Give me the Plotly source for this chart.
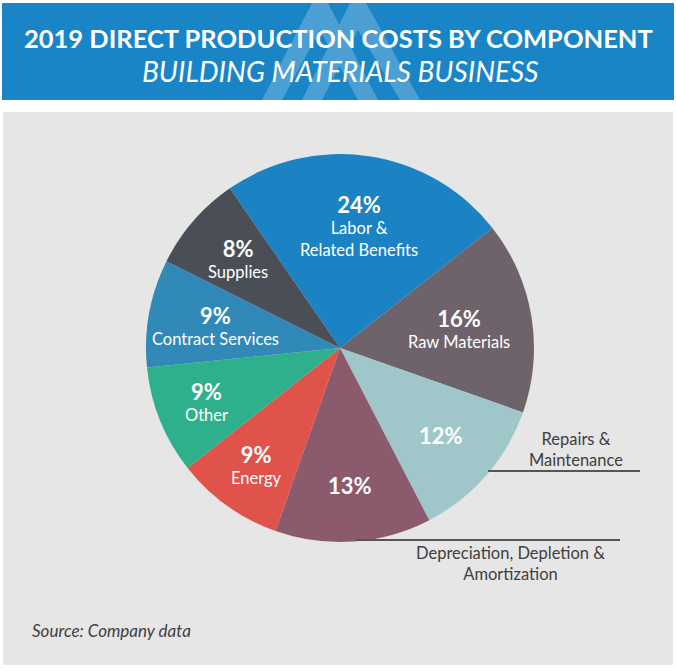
import math
import plotly.graph_objects as go

categories = ["Labor &<br>Related Benefits", "Raw Materials", "Repairs &<br>Maintenance",
              "Depreciation, Depletion &<br>Amortization", "Energy", "Other",
              "Contract Services", "Supplies"]
values = [24, 16, 12, 13, 9, 9, 9, 8]
inside_names = [True, True, False, False, True, True, True, True]
colors = ["#1b82c4", "#6f636b", "#9fc6c9", "#8b5a6c", "#e0534b", "#2fb08c", "#3189b8", "#4a4f57"]

FONT = "Lato"
W, H = 676, 672
CX, CY, R = 340, 348, 194          # pie centre / radius in pixels (layout)
ROTATION = -34.6
label_radius = [0.64, 0.62, 0.69, 0.71, 0.74, 0.74, 0.65, 0.70]   # label placement (style)


def px(x):
    return x / W


def py(y):
    return 1 - y / H


fig = go.Figure()
fig.add_trace(go.Pie(
    labels=[c.replace("<br>", " ") for c in categories],
    values=values,
    textinfo="none",
    marker=dict(colors=colors, line=dict(width=0)),
    sort=False,
    direction="clockwise",
    rotation=ROTATION,
    showlegend=False,
    hoverinfo="label+percent",
    domain=dict(x=[px(CX - R), px(CX + R)], y=[py(CY + R), py(CY - R)]),
))

# slice labels placed at each slice's mid angle (derived from the values)
annotations = []
total = sum(values)
cum = 0
for cat, v, show, rf in zip(categories, values, inside_names, label_radius):
    mid = math.radians(ROTATION + 360 * (cum + v / 2) / total)
    cum += v
    lx = CX + rf * R * math.sin(mid)
    ly = CY - rf * R * math.cos(mid)
    pct = f"<span style='font-size:22px'><b>{v}%</b></span>"
    txt = pct + ("<br>" + cat if show else "")
    annotations.append(dict(text=txt, x=px(lx), y=py(ly),
                            font=dict(family=FONT, size=16.5, color="white")))

shapes = [
    dict(type="rect", xref="paper", yref="paper", x0=px(2), x1=px(674), y0=py(3), y1=py(100),
         fillcolor="#1a85c6", line=dict(width=0), layer="below"),
    dict(type="path", xref="paper", yref="paper", layer="below", fillcolor="#4c9fd3", line=dict(width=0),
         path=f"M {px(262)},{py(100)} L {px(312)},{py(3)} L {px(328)},{py(3)} L {px(378)},{py(100)} "
              f"L {px(358)},{py(100)} L {px(320)},{py(30)} L {px(282)},{py(100)} Z"),
    dict(type="path", xref="paper", yref="paper", layer="below", fillcolor="#4c9fd3", line=dict(width=0),
         path=f"M {px(302)},{py(100)} L {px(350)},{py(3)} L {px(366)},{py(3)} L {px(420)},{py(100)} "
              f"L {px(400)},{py(100)} L {px(358)},{py(30)} L {px(322)},{py(100)} Z"),
    dict(type="rect", xref="paper", yref="paper", x0=px(3), x1=px(673), y0=py(112), y1=py(665),
         fillcolor="#e6e6e6", line=dict(width=0), layer="below"),
    dict(type="line", xref="paper", yref="paper", x0=px(488), x1=px(640), y0=py(471), y1=py(471),
         line=dict(color="#555555", width=2)),
    dict(type="line", xref="paper", yref="paper", x0=px(356), x1=px(620), y0=py(540), y1=py(540),
         line=dict(color="#555555", width=2)),
]

annotations += [
    dict(text="<b>2019 DIRECT PRODUCTION COSTS BY COMPONENT</b>", x=px(339), y=py(38),
         font=dict(family=FONT, size=25.5, color="white")),
    dict(text="<i>BUILDING MATERIALS BUSINESS</i>", x=px(340), y=py(71),
         font=dict(family=FONT, size=28, color="white")),
    dict(text=categories[2], x=px(576), y=py(449),
         font=dict(family=FONT, size=16.5, color="#404040")),
    dict(text=categories[3], x=px(510), y=py(563),
         font=dict(family=FONT, size=16.5, color="#404040")),
    dict(text="<i>Source: Company data</i>", x=px(30), y=py(630), xanchor="left",
         font=dict(family=FONT, size=17, color="#404040")),
]
for a in annotations:
    a.setdefault("xref", "paper")
    a.setdefault("yref", "paper")
    a.setdefault("showarrow", False)
    a.setdefault("xanchor", "center")
    a.setdefault("yanchor", "middle")

fig.update_layout(
    width=W, height=H,
    margin=dict(l=0, r=0, t=0, b=0),
    paper_bgcolor="white",
    plot_bgcolor="white",
    shapes=shapes,
    annotations=annotations,
    font=dict(family=FONT),
)

fig.write_html("out.html", config={"displayModeBar": False},
               post_script="document.body.style.margin='0';")
